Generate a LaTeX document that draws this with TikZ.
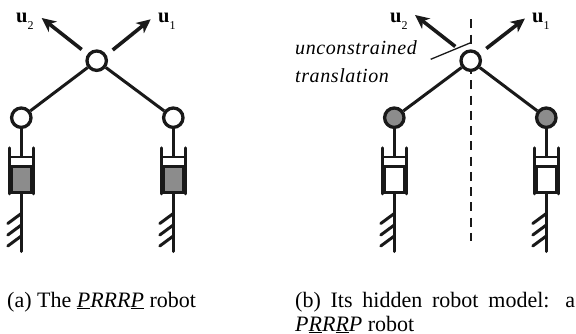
\documentclass[tikz,border=0pt]{standalone}
\usepackage{fontspec}
\setmainfont{Liberation Serif}
\usetikzlibrary{arrows.meta}
\newcommand{\uvec}[1]{\textbf{u}{\fontsize{12}{12}\selectfont\raisebox{-7pt}{#1}}}

\begin{document}
\begin{tikzpicture}[x=1pt,y=-1pt]
    \tikzset{joint/.style={circle,draw=black!90,fill=white,line width=3.3pt,inner sep=0pt,minimum size=19.4pt}}
    \tikzset{block/.style={rectangle,draw=black!90,line width=3.3pt,inner sep=0pt,minimum width=20.5pt,minimum height=25.5pt}}
    \tikzset{link/.style={draw=black!90,line width=3pt}}
    \tikzset{uarrow/.style={link,line width=3.6pt,-{Stealth[length=14pt,width=13pt,inset=4pt]}}}
    \tikzset{ulabel/.style={font=\fontsize{20.5}{24}\selectfont,inner sep=0pt,anchor=base west}}
    \tikzset{caption/.style={font=\fontsize{22}{24}\selectfont,inner sep=0pt,anchor=base west}}
    \useasboundingbox (0,0) rectangle (576,334);

    % vertical line of the right figure, below the joints
    \draw[black!90,line width=1.8pt,dash pattern=on 9pt off 6.25pt] (470.7,19.3) coordinate (dtop) -- (470.7,240.7) coordinate (dbot);

    \node[joint] at (96.7,60.7) (topa) {};
    \node[joint] at (470.7,60.7) (topb) {};

    % the four legs
    \foreach \leg/\xx/\jfill/\bfill in {al/21.3/white/black!45, ar/173.3/white/black!45, bl/394.3/black!45/white, br/546.3/black!45/white} {
        \node[joint,fill=\jfill] at (\xx,117.7) (j\leg) {};
        \node[block,fill=\bfill] at (\xx,179.5) (b\leg) {};
        \coordinate (p\leg) at (\xx,157);
        \coordinate (g\leg) at (\xx,251.5);
        \draw[link] (j\leg) -- (p\leg);
        \draw[link,line width=2.6pt] ([xshift=-10.2pt]p\leg) -- ([xshift=10.2pt]p\leg);
        \draw[link,line cap=round] (b\leg.south west) -- ++(0,46pt);
        \draw[link,line cap=round] (b\leg.south east) -- ++(0,46pt);
        \draw[link,line cap=round] (b\leg) -- (g\leg);
        \foreach \yy in {213.5,225,236} {
            \draw[link,line cap=round] (\xx,\yy) -- ++(-13.5,10);
        }
    }

    \draw[link] (topa) -- (jal);
    \draw[link] (topa) -- (jar);
    \draw[link] (topb) -- (jbl);
    \draw[link] (topb) -- (jbr);

    % velocity directions
    \coordinate (u1a) at (112.7,50);
    \coordinate (u2a) at (81.7,49.5);
    \coordinate (u1b) at (486.3,48.5);
    \coordinate (u2b) at (455.3,46.5);
    \coordinate (t1a) at (150.7,19.3);
    \coordinate (t2a) at (41.7,18);
    \coordinate (t1b) at (525,18.5);
    \coordinate (t2b) at (415,15);
    \node[ulabel] at (158,22.5) (ua) {\uvec{1}};
    \node[ulabel] at (16,22.5) (va) {\uvec{2}};
    \node[ulabel] at (532,22.5) (ub) {\uvec{1}};
    \node[ulabel] at (390,22.5) (vb) {\uvec{2}};
    \draw[uarrow] (u1a) -- (t1a);
    \draw[uarrow] (u2a) -- (t2a);
    \draw[uarrow] (u1b) -- (t1b);
    \draw[uarrow] (u2b) -- (t2b);

    \node[font=\fontsize{20}{28}\selectfont\itshape\addfontfeature{LetterSpace=3},inner sep=0pt,anchor=base west,align=left] at (295,83) (free) {unconstrained\\translation};
    \coordinate (lead) at (430.7,59.3);
    \coordinate (dmid) at (470.7,42.7);
    \draw[black!90,line width=1.3pt] (lead) -- (dmid);

    \node[caption] at (7,307) (capa) {(a) The \textit{\underline{P}RRR\underline{P}} robot};
    \node[caption,text width=280pt,align=justify] at (295,307) (capb) {(b) Its hidden robot model: a \textit{P\underline{R}R\underline{R}P} robot};
\end{tikzpicture}
\end{document}
